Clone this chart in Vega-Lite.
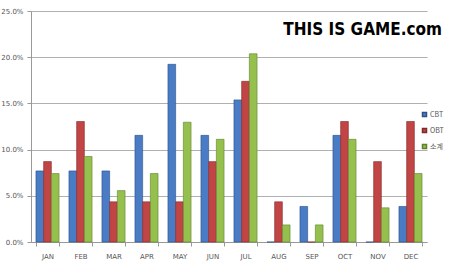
{
  "$schema": "https://vega.github.io/schema/vega-lite/v6.json",
  "autosize": {"type": "none"},
  "width": 396,
  "height": 231,
  "padding": {"left": 31, "top": 11, "right": 22, "bottom": 22},
  "background": "white",
  "title": {
    "text": "THIS IS GAME.com",
    "anchor": "end",
    "frame": "group",
    "orient": "top",
    "font": "DejaVu Sans Condensed",
    "fontWeight": "bold",
    "fontSize": 17,
    "color": "#000000",
    "baseline": "alphabetic",
    "offset": -22,
    "dy": 23,
    "dx": 15
  },
  "data": {
    "values": [
      {"month": "JAN", "series": "CBT", "pct": 7.69},
      {"month": "FEB", "series": "CBT", "pct": 7.69},
      {"month": "MAR", "series": "CBT", "pct": 7.69},
      {"month": "APR", "series": "CBT", "pct": 11.54},
      {"month": "MAY", "series": "CBT", "pct": 19.23},
      {"month": "JUN", "series": "CBT", "pct": 11.54},
      {"month": "JUL", "series": "CBT", "pct": 15.38},
      {"month": "AUG", "series": "CBT", "pct": 0},
      {"month": "SEP", "series": "CBT", "pct": 3.85},
      {"month": "OCT", "series": "CBT", "pct": 11.54},
      {"month": "NOV", "series": "CBT", "pct": 0},
      {"month": "DEC", "series": "CBT", "pct": 3.85},
      {"month": "JAN", "series": "OBT", "pct": 8.7},
      {"month": "FEB", "series": "OBT", "pct": 13.04},
      {"month": "MAR", "series": "OBT", "pct": 4.35},
      {"month": "APR", "series": "OBT", "pct": 4.35},
      {"month": "MAY", "series": "OBT", "pct": 4.35},
      {"month": "JUN", "series": "OBT", "pct": 8.7},
      {"month": "JUL", "series": "OBT", "pct": 17.39},
      {"month": "AUG", "series": "OBT", "pct": 4.35},
      {"month": "SEP", "series": "OBT", "pct": 0},
      {"month": "OCT", "series": "OBT", "pct": 13.04},
      {"month": "NOV", "series": "OBT", "pct": 8.7},
      {"month": "DEC", "series": "OBT", "pct": 13.04},
      {"month": "JAN", "series": "소계", "pct": 7.41},
      {"month": "FEB", "series": "소계", "pct": 9.26},
      {"month": "MAR", "series": "소계", "pct": 5.56},
      {"month": "APR", "series": "소계", "pct": 7.41},
      {"month": "MAY", "series": "소계", "pct": 12.96},
      {"month": "JUN", "series": "소계", "pct": 11.11},
      {"month": "JUL", "series": "소계", "pct": 20.37},
      {"month": "AUG", "series": "소계", "pct": 1.85},
      {"month": "SEP", "series": "소계", "pct": 1.85},
      {"month": "OCT", "series": "소계", "pct": 11.11},
      {"month": "NOV", "series": "소계", "pct": 3.7},
      {"month": "DEC", "series": "소계", "pct": 7.41}
    ]
  },
  "mark": {"type": "bar", "strokeWidth": 0.6},
  "encoding": {
    "x": {
      "field": "month",
      "type": "nominal",
      "sort": ["JAN","FEB","MAR","APR","MAY","JUN","JUL","AUG","SEP","OCT","NOV","DEC"],
      "scale": {"paddingInner": 0.3, "paddingOuter": 0.15},
      "axis": {
        "title": null,
        "labelAngle": 0,
        "labelFont": "DejaVu Sans",
        "labelFontSize": 7,
        "labelColor": "#555555",
        "labelPadding": 6,
        "domainColor": "#999999",
        "tickColor": "#999999",
        "tickBand": "extent",
        "tickSize": 4
      }
    },
    "xOffset": {"field": "series", "type": "nominal", "sort": ["CBT", "OBT", "소계"]},
    "y": {
      "field": "pct",
      "type": "quantitative",
      "scale": {"domain": [0, 25], "nice": false},
      "axis": {
        "title": null,
        "values": [0, 5, 10, 15, 20, 25],
        "labelExpr": "format(datum.value, '.1f') + '%'",
        "labelFont": "DejaVu Sans",
        "labelFontSize": 7,
        "labelColor": "#555555",
        "labelPadding": 4,
        "domainColor": "#999999",
        "tickColor": "#999999",
        "tickSize": 4,
        "gridColor": "#b0b0b0",
        "gridWidth": 1
      }
    },
    "color": {
      "field": "series",
      "type": "nominal",
      "sort": ["CBT", "OBT", "소계"],
      "scale": {"domain": ["CBT", "OBT", "소계"], "range": ["#4a7cc6", "#c24545", "#96c04e"]},
      "legend": {
        "title": null,
        "orient": "none",
        "legendX": 390,
        "legendY": 100,
        "padding": 0,
        "symbolType": "square",
        "symbolSize": 16,
        "labelOffset": 2,
        "labelFont": "Noto Sans CJK KR",
        "labelFontSize": 7,
        "labelColor": "#555555",
        "rowPadding": 5
      }
    },
    "stroke": {
      "field": "series",
      "type": "nominal",
      "scale": {"domain": ["CBT", "OBT", "소계"], "range": ["#2c4f86", "#7e2a2a", "#5e7f2c"]},
      "legend": null
    }
  },
  "config": {"view": {"stroke": null}}
}
